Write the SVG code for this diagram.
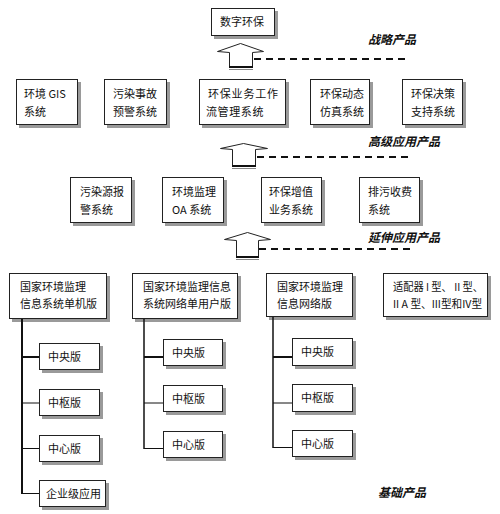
<svg xmlns="http://www.w3.org/2000/svg" width="500" height="514" viewBox="0 0 500 514">
<style>
.sh{fill:#9a9a9a}
.bx{fill:#fff;stroke:#222;stroke-width:1}
.t{font-family:"Noto Sans CJK SC","DejaVu Sans",sans-serif;font-size:11px;fill:#111}
.lb{font-family:"Noto Sans CJK SC","DejaVu Sans",sans-serif;font-size:12px;font-weight:bold;font-style:italic;fill:#111}
.ar{fill:#fff;stroke:#222;stroke-width:1}
.dash{stroke:#111;stroke-width:2;stroke-dasharray:7 5;fill:none}
.tr{stroke:#111;fill:none}
</style>
<rect width="500" height="514" fill="#fff"/>

<g id="n-digital"><rect class="sh" x="214" y="11" width="64" height="28"/><rect class="bx" x="211.5" y="8.5" width="63" height="27"/><text class="t" x="220" y="26">数字环保</text></g>

<g id="row2">
<g id="n-gis"><rect class="sh" x="19" y="82" width="62" height="46"/><rect class="bx" x="16.5" y="79.5" width="61" height="45"/><text class="t" x="24" y="98">环境 GIS</text><text class="t" x="24" y="116">系统</text></g>
<g id="n-accident"><rect class="sh" x="107" y="82" width="63" height="46"/><rect class="bx" x="104.5" y="79.5" width="62" height="45"/><text class="t" x="113" y="98">污染事故</text><text class="t" x="113" y="116">预警系统</text></g>
<g id="n-workflow"><rect class="sh" x="202" y="82" width="87" height="46"/><rect class="bx" x="199.5" y="79.5" width="86" height="45"/><text class="t" x="208" y="98" letter-spacing="0.8">环保业务工作</text><text class="t" x="206" y="116" letter-spacing="0.6">流管理系统</text></g>
<g id="n-sim"><rect class="sh" x="313" y="82" width="60" height="46"/><rect class="bx" x="310.5" y="79.5" width="59" height="45"/><text class="t" x="320" y="98">环保动态</text><text class="t" x="320" y="116">仿真系统</text></g>
<g id="n-decision"><rect class="sh" x="405" y="82" width="61" height="46"/><rect class="bx" x="402.5" y="79.5" width="60" height="45"/><text class="t" x="411" y="98">环保决策</text><text class="t" x="411" y="116">支持系统</text></g>
</g>

<g id="row3">
<g id="n-alarm"><rect class="sh" x="73" y="180" width="62" height="46"/><rect class="bx" x="70.5" y="177.5" width="61" height="45"/><text class="t" x="80" y="196">污染源报</text><text class="t" x="80" y="214">警系统</text></g>
<g id="n-oa"><rect class="sh" x="165" y="180" width="62" height="46"/><rect class="bx" x="162.5" y="177.5" width="61" height="45"/><text class="t" x="172" y="196">环境监理</text><text class="t" x="172" y="214">OA 系统</text></g>
<g id="n-value"><rect class="sh" x="264" y="180" width="61" height="46"/><rect class="bx" x="261.5" y="177.5" width="60" height="45"/><text class="t" x="269" y="196">环保增值</text><text class="t" x="269" y="214">业务系统</text></g>
<g id="n-fee"><rect class="sh" x="362" y="180" width="61" height="46"/><rect class="bx" x="359.5" y="177.5" width="60" height="45"/><text class="t" x="368" y="196">排污收费</text><text class="t" x="368" y="214">系统</text></g>
</g>

<g id="row4">
<g id="n-single"><rect class="sh" x="12" y="276" width="98" height="46"/><rect class="bx" x="9.5" y="273.5" width="97" height="45"/><text class="t" x="20" y="291">国家环境监理</text><text class="t" x="20" y="308">信息系统单机版</text></g>
<g id="n-netuser"><rect class="sh" x="135" y="276" width="106" height="46"/><rect class="bx" x="132.5" y="273.5" width="105" height="45"/><text class="t" x="143" y="291">国家环境监理信息</text><text class="t" x="143" y="308">系统网络单用户版</text></g>
<g id="n-net"><rect class="sh" x="269" y="276" width="87" height="44"/><rect class="bx" x="266.5" y="273.5" width="86" height="43"/><text class="t" x="277" y="291">国家环境监理</text><text class="t" x="277" y="308">信息网络版</text></g>
<g id="n-adapter"><rect class="sh" x="386" y="276" width="105" height="44"/><rect class="bx" x="383.5" y="273.5" width="104" height="43"/><text class="t" x="393" y="291" textLength="90" lengthAdjust="spacingAndGlyphs">适配器 I 型、 II 型、</text><text class="t" x="393" y="308" textLength="89" lengthAdjust="spacingAndGlyphs">II A 型、III型和IV型</text></g>
</g>

<g id="subA">
<g id="a1"><rect class="sh" x="42" y="346" width="61" height="27"/><rect class="bx" x="39.5" y="343.5" width="60" height="26"/><text class="t" x="48" y="361">中央版</text></g>
<g id="a2"><rect class="sh" x="42" y="392" width="61" height="27"/><rect class="bx" x="39.5" y="389.5" width="60" height="26"/><text class="t" x="48" y="407">中枢版</text></g>
<g id="a3"><rect class="sh" x="42" y="438" width="61" height="27"/><rect class="bx" x="39.5" y="435.5" width="60" height="26"/><text class="t" x="48" y="453">中心版</text></g>
<g id="a4"><rect class="sh" x="42" y="483" width="67" height="27"/><rect class="bx" x="39.5" y="480.5" width="66" height="26"/><text class="t" x="46" y="498">企业级应用</text></g>
</g>
<g id="subB">
<g id="b1"><rect class="sh" x="166" y="342" width="60" height="27"/><rect class="bx" x="163.5" y="339.5" width="59" height="26"/><text class="t" x="172" y="357">中央版</text></g>
<g id="b2"><rect class="sh" x="166" y="388" width="60" height="27"/><rect class="bx" x="163.5" y="385.5" width="59" height="26"/><text class="t" x="172" y="403">中枢版</text></g>
<g id="b3"><rect class="sh" x="166" y="434" width="60" height="27"/><rect class="bx" x="163.5" y="431.5" width="59" height="26"/><text class="t" x="172" y="449">中心版</text></g>
</g>
<g id="subC">
<g id="c1"><rect class="sh" x="295" y="341" width="61" height="28"/><rect class="bx" x="292.5" y="338.5" width="60" height="27"/><text class="t" x="301" y="356">中央版</text></g>
<g id="c2"><rect class="sh" x="295" y="387" width="61" height="28"/><rect class="bx" x="292.5" y="384.5" width="60" height="27"/><text class="t" x="301" y="402">中枢版</text></g>
<g id="c3"><rect class="sh" x="295" y="433" width="61" height="27"/><rect class="bx" x="292.5" y="430.5" width="60" height="26"/><text class="t" x="301" y="448">中心版</text></g>
</g>

<g id="connectors">
<polygon class="ar" points="240.5,43.5 217.5,51.5 229.5,52.5 229.5,67.5 252.5,67.5 252.5,52.5 263.5,51.5"/>
<line x1="229" y1="67" x2="253" y2="67" stroke="#111" stroke-width="2"/>
<line x1="229" y1="69.5" x2="253" y2="69.5" stroke="#888" stroke-width="1"/>
<line class="dash" x1="254" y1="59" x2="408" y2="59"/>

<polygon class="ar" points="243.5,143.5 220.5,148.5 232.5,149.5 232.5,166.5 255.5,166.5 255.5,149.5 267.5,148.5"/>
<line x1="232" y1="166" x2="256" y2="166" stroke="#111" stroke-width="2"/>
<line x1="232" y1="168.5" x2="256" y2="168.5" stroke="#888" stroke-width="1"/>
<line class="dash" x1="257" y1="157" x2="410" y2="157"/>

<polygon class="ar" points="247.5,232.5 224.5,239.5 236.5,240.5 236.5,257.5 258.5,257.5 258.5,240.5 270.5,239.5"/>
<line x1="236" y1="257" x2="259" y2="257" stroke="#111" stroke-width="2"/>
<line x1="236" y1="259.5" x2="259" y2="259.5" stroke="#888" stroke-width="1"/>
<line class="dash" x1="259" y1="249" x2="412" y2="249"/>

<path class="tr" stroke-width="2" d="M22,319 V494"/>
<path class="tr" stroke-width="2" d="M22,357 H39"/>
<path class="tr" stroke-width="1" d="M22,403 H39 M22,448.5 H39 M22,493.5 H39"/>
<path class="tr" stroke-width="1.5" d="M144,319 V449"/>
<path class="tr" stroke-width="2" d="M144,357 H163"/>
<path class="tr" stroke-width="1" d="M144,403 H163 M144,448.5 H163"/>
<path class="tr" stroke-width="1.5" d="M273,317 V448"/>
<path class="tr" stroke-width="2" d="M273,357 H292"/>
<path class="tr" stroke-width="1" d="M273,403 H292 M273,447.5 H292"/>
</g>

<g id="labels">
<text class="lb" x="368" y="44">战略产品</text>
<text class="lb" x="368" y="146">高级应用产品</text>
<text class="lb" x="368" y="242">延伸应用产品</text>
<text class="lb" x="378" y="497">基础产品</text>
</g>
</svg>
